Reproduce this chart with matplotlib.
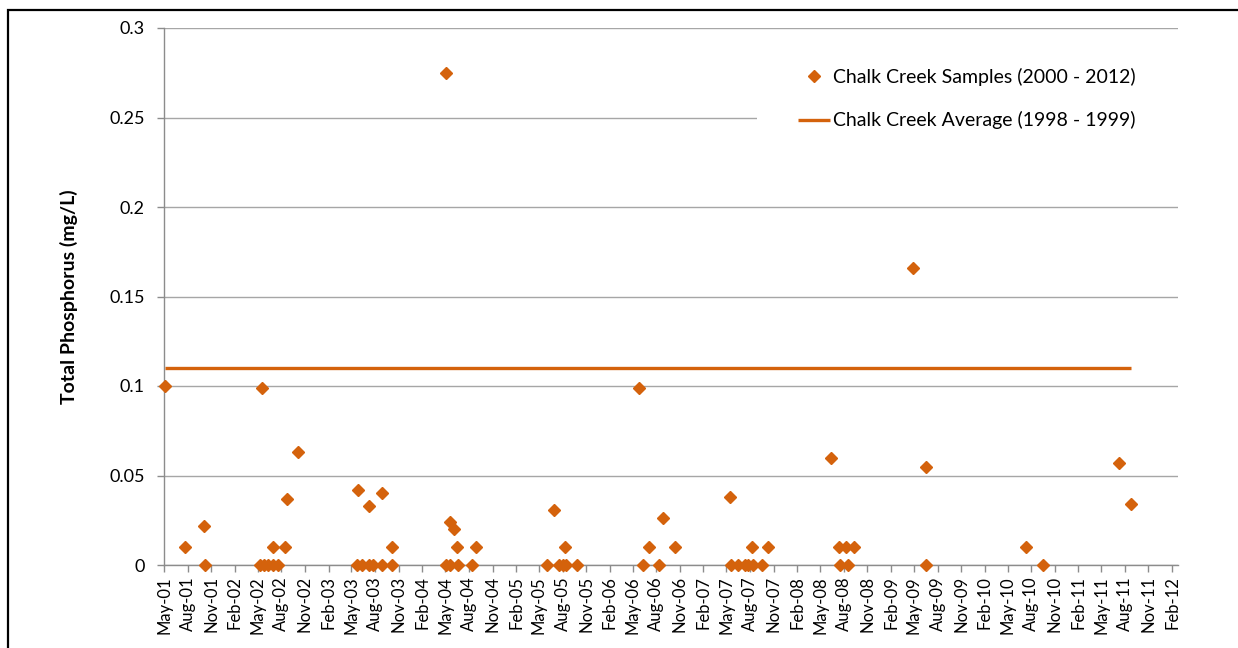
import matplotlib
matplotlib.use("Agg")
import matplotlib.pyplot as plt
import matplotlib.dates as mdates
import pandas as pd
from matplotlib.patches import Rectangle

# ---- data ----
sample_dates = [
    "2001-05-03", "2001-07-21", "2001-10-05", "2001-10-07",
    "2002-05-10", "2002-05-16", "2002-05-25", "2002-06-11", "2002-06-28", "2002-06-28",
    "2002-07-20", "2002-08-15", "2002-08-22", "2002-10-04",
    "2003-05-22", "2003-05-28", "2003-06-10", "2003-07-10", "2003-07-10", "2003-07-23",
    "2003-08-29", "2003-08-29", "2003-10-05", "2003-10-05",
    "2004-05-04", "2004-05-04", "2004-05-20", "2004-05-20", "2004-06-04", "2004-06-17",
    "2004-06-21", "2004-08-12", "2004-08-28",
    "2005-06-02", "2005-06-29", "2005-07-17", "2005-08-03", "2005-08-10", "2005-08-14",
    "2005-09-25",
    "2006-05-24", "2006-06-11", "2006-07-04", "2006-08-11", "2006-08-28", "2006-10-13",
    "2007-05-15", "2007-05-18", "2007-06-17", "2007-07-13", "2007-07-26", "2007-08-10",
    "2007-08-14", "2007-09-16", "2007-10-12",
    "2008-06-11", "2008-07-14", "2008-07-16", "2008-08-11", "2008-08-18", "2008-09-09",
    "2009-04-27", "2009-06-16", "2009-06-16",
    "2010-07-13", "2010-09-15",
    "2011-07-10", "2011-08-24",
]
sample_values = [
    0.100, 0.010, 0.022, 0.000,
    0.000, 0.099, 0.000, 0.000, 0.000, 0.010,
    0.000, 0.010, 0.037, 0.063,
    0.000, 0.042, 0.000, 0.033, 0.000, 0.000,
    0.040, 0.000, 0.010, 0.000,
    0.275, 0.000, 0.024, 0.000, 0.020, 0.010,
    0.000, 0.000, 0.010,
    0.000, 0.031, 0.000, 0.000, 0.010, 0.000,
    0.000,
    0.099, 0.000, 0.010, 0.000, 0.026, 0.010,
    0.038, 0.000, 0.000, 0.000, 0.000, 0.010,
    0.000, 0.000, 0.010,
    0.060, 0.010, 0.000, 0.010, 0.000, 0.010,
    0.166, 0.055, 0.000,
    0.010, 0.000,
    0.057, 0.034,
]
average_value = 0.11
average_span = ["2001-05-03", "2011-08-24"]
y_ticks = [0, 0.05, 0.1, 0.15, 0.2, 0.25, 0.3]
y_tick_labels = ["0", "0.05", "0.1", "0.15", "0.2", "0.25", "0.3"]
series_label = "Chalk Creek Samples (2000 - 2012)"
average_label = "Chalk Creek Average (1998 - 1999)"
y_label = "Total Phosphorus (mg/L)"

# ---- plot ----
color = "#D4620C"
plt.rcParams['font.family'] = ['Lato', 'DejaVu Sans']

W, H = 1238, 648
AX_L, AX_R, AX_T, AX_B = 164, 1178, 28, 565
fig = plt.figure(figsize=(W / 100, H / 100), dpi=100)
ax = fig.add_axes([AX_L / W, 1 - AX_B / H, (AX_R - AX_L) / W, (AX_B - AX_T) / H])


def ax_x(px):
    return (px - AX_L) / (AX_R - AX_L)


def ax_y(py):
    return (AX_B - py) / (AX_B - AX_T)


# outer frame
fig.patches.append(Rectangle((8 / W, -0.05), 1.2, 1 - 10 / H + 0.05,
                             transform=fig.transFigure, fill=False,
                             edgecolor="black", linewidth=1.6))

dates = pd.to_datetime(sample_dates)
ax.plot(dates, sample_values, linestyle="none", marker="D", markersize=6.2,
        color=color, label=series_label, zorder=4, clip_on=False)
span = pd.to_datetime(average_span)
ax.plot(span, [average_value, average_value], color=color, linewidth=2.4,
        label=average_label, zorder=3, solid_capstyle="butt")

ax.set_xlim(pd.Timestamp("2001-05-01"), pd.Timestamp("2012-02-24"))
ax.set_ylim(0, 0.3)
ax.set_yticks(y_ticks)
ax.set_yticklabels(y_tick_labels)

ax.xaxis.set_major_locator(mdates.MonthLocator(bymonth=[2, 5, 8, 11]))
ax.xaxis.set_major_formatter(mdates.DateFormatter("%b-%y"))
plt.setp(ax.get_xticklabels(), rotation=90, ha="center", va="top")

ax.grid(axis="y", color="#A6A6A6", linewidth=1.0, zorder=0)
ax.set_axisbelow(True)
for s in ["top", "right"]:
    ax.spines[s].set_visible(False)
for s in ["left", "bottom"]:
    ax.spines[s].set_color("#8C8C8C")
    ax.spines[s].set_linewidth(1.0)
ax.tick_params(axis="both", colors="#8C8C8C", length=5, width=1.0, direction="out")
ax.tick_params(axis="y", labelsize=13, labelcolor="black", pad=9)
ax.tick_params(axis="x", labelsize=12, labelcolor="black", pad=3)

ax.set_ylabel(y_label, fontsize=14, fontweight="bold", labelpad=22)

# white legend area covering the gridline
ax.add_patch(Rectangle((ax_x(757), ax_y(140)), ax_x(AX_R) - ax_x(757), ax_y(55) - ax_y(140),
                       transform=ax.transAxes, facecolor="white", edgecolor="none",
                       zorder=2.5))

leg = ax.legend(loc="upper left", bbox_to_anchor=(ax_x(798), ax_y(68)),
                frameon=False, fontsize=14,
                handlelength=1.65, handletextpad=0.15, labelspacing=1.3,
                borderaxespad=0, borderpad=0)
leg.set_zorder(5)

fig.savefig("out.png", dpi=100, facecolor="white")
